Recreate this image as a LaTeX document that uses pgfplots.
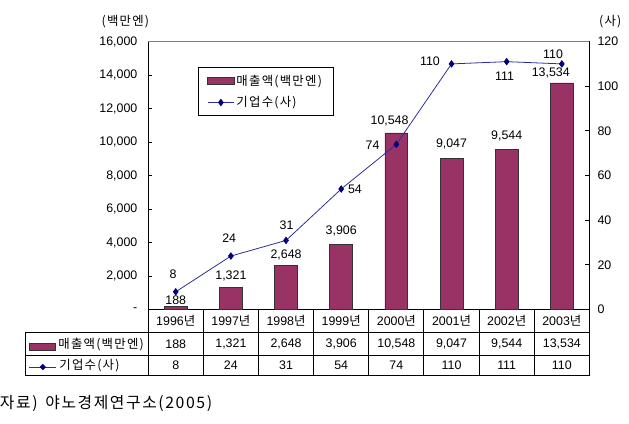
\documentclass[border=0pt]{standalone}
\usepackage{pgfplots}
\pgfplotsset{compat=1.18}
\usepackage{fontspec}
\setmainfont{Liberation Sans}
\newfontfamily\kr{Noto Sans CJK KR}
\newfontfamily\krs[LetterSpace=10]{Noto Sans CJK KR}
\newfontfamily\krw[LetterSpace=10]{Noto Sans CJK KR}
\definecolor{barcol}{RGB}{153,51,102}
\definecolor{linecol}{RGB}{45,45,150}
\definecolor{markcol}{RGB}{0,0,128}
\pgfplotsset{
  mybarleg/.style={legend image code/.code={\draw[##1] (0pt,-2.7pt) rectangle (20pt,2.7pt);}},
  mylineleg/.style={legend image code/.code={\draw[mark repeat=2, mark phase=2, ##1] plot coordinates {(0pt,0pt) (10pt,0pt) (20pt,0pt)};}},
}
\begin{document}
\fontsize{9.4pt}{11pt}\selectfont
\begin{tikzpicture}
\begin{scope}[x=0.75pt,y=-0.75pt,shift={(-107.25pt,234.75pt)}]
\path[use as bounding box] (0,0) rectangle (629,428);
\end{scope}
\begin{axis}[
  at={(0,0)}, anchor=south west, scale only axis,
  width=334.5pt, height=203.25pt,
  xmin=-0.5, xmax=7.5, ymin=0, ymax=16000,
  xtick=\empty, scaled y ticks=false,
  ytick={0,2000,4000,6000,8000,10000,12000,14000,16000},
  yticklabels={-,{2,000},{4,000},{6,000},{8,000},{10,000},{12,000},{14,000},{16,000}},
  ytick pos=left, tick align=inside, major tick length=3pt,
  tick style={black, line width=0.75pt},
  yticklabel style={anchor=east, inner sep=0pt, xshift=-8pt},
  axis line style={black, line width=0.75pt},
  clip=false,
]
\addplot[ybar, bar width=17.25pt, fill=barcol, draw=black!80, line width=0.5pt]
  coordinates {(0,188) (1,1321) (2,2648) (3,3906) (4,10548) (5,9047) (6,9544) (7,13534)};
\node at (axis cs:0,590) {188};
\node at (axis cs:1,2007) {1,321};
\node at (axis cs:2,3247) {2,648};
\node at (axis cs:3,4723) {3,906};
\node at (axis cs:3.877,11277) {10,548};
\node at (axis cs:5,9860) {9,047};
\node at (axis cs:6,10391) {9,544};
\node at (axis cs:6.80,14111) {13,534};
\end{axis}
\begin{axis}[
  at={(0,0)}, anchor=south west, scale only axis,
  width=334.5pt, height=203.25pt,
  xmin=-0.5, xmax=7.5, ymin=0, ymax=120,
  xtick=\empty, scaled y ticks=false,
  ytick={0,20,40,60,80,100,120},
  yticklabels={0,20,40,60,80,100,120},
  ytick pos=right, tick align=inside, major tick length=3pt,
  tick style={black, line width=0.75pt},
  yticklabel style={anchor=west, inner sep=0pt, xshift=6pt},
  axis line style={draw=none},
  clip=false,
  legend style={at={(0.112,0.904)}, anchor=north west, draw=black, line width=0.75pt,
    font=\krs\fontsize{9.4pt}{11pt}\selectfont, inner xsep=7pt, inner ysep=4pt,
    row sep=4pt, nodes={inner sep=1.5pt}},
  legend cell align=left,
]
\draw[gray, line width=0.75pt] (rel axis cs:0,1) -- (rel axis cs:1,1);
\addlegendimage{fill=barcol, draw=black!80, line width=0.5pt, mybarleg}
\addlegendentry{매출액(백만엔)}
\addplot[color=linecol, line width=0.6pt, mark=diamond*, mark size=2.4pt,
  mark options={fill=markcol, draw=markcol}, mylineleg]
  coordinates {(0,8) (1,24) (2,31) (3,54) (4,74) (5,110) (6,111) (7,110)};
\addlegendentry{기업수(사)}
\node at (axis cs:-0.05,15.9) {8};
\node at (axis cs:0.97,31.9) {24};
\node at (axis cs:2.01,37.6) {31};
\node at (axis cs:3.25,54.0) {54};
\node at (axis cs:3.57,73.5) {74};
\node at (axis cs:4.61,111.1) {110};
\node at (axis cs:5.96,104.5) {111};
\node at (axis cs:6.84,114.2) {110};
\end{axis}
\begin{scope}[x=0.75pt,y=-0.75pt,shift={(-107.25pt,234.75pt)}]
\node[font=\krs] at (120,22) {(백만엔)};
\node[font=\krs] at (610,22) {(사)};
\draw[black, line width=0.75pt] (19,336) -- (589,336) (19,359) -- (589,359) (19,380) -- (589,380) (19,336) -- (19,380);
\foreach \i in {0,...,8} { \draw[black, line width=0.75pt] ({143+\i*55.75},313) -- ({143+\i*55.75},380); }
\foreach \y [count=\i from 0] in {1996,1997,1998,1999,2000,2001,2002,2003}
  { \node at ({170.875+\i*55.75},324.5) {\y{\kr 년}}; }
\foreach \v [count=\i from 0] in {188,{1,321},{2,648},{3,906},{10,548},{9,047},{9,544},{13,534}}
  { \node at ({170.875+\i*55.75},347.5) {\v}; }
\foreach \v [count=\i from 0] in {8,24,31,54,74,110,111,110}
  { \node at ({170.875+\i*55.75},369.5) {\v}; }
\filldraw[fill=barcol, draw=black!80, line width=0.5pt] (23,347) rectangle (49,354);
\node[font=\krs, anchor=west, inner sep=0pt] at (52,348) {매출액(백만엔)};
\draw[linecol, line width=0.6pt] (23,371) -- (50,371);
\fill[markcol] (36.5,367.8) -- (39.7,371) -- (36.5,374.2) -- (33.3,371) -- cycle;
\node[font=\krs, anchor=west, inner sep=0pt] at (53,370) {기업수(사)};
\node[font=\krw\fontsize{12pt}{14pt}\selectfont, anchor=west, inner sep=0pt] at (-7,408) {자료)\hspace{2pt} 야노경제연구소(2005)};
\end{scope}
\end{tikzpicture}
\end{document}
